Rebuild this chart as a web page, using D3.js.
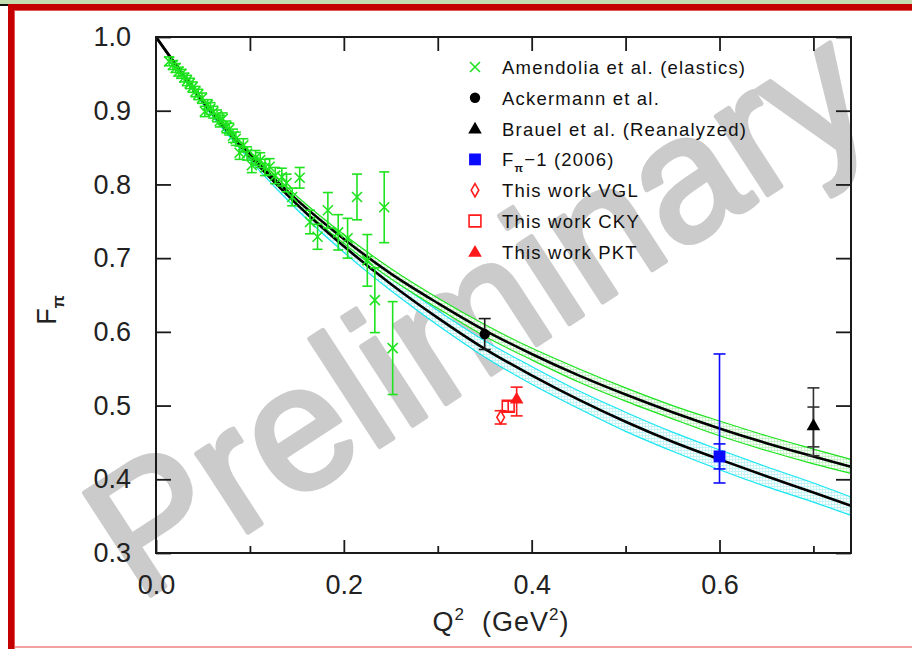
<!DOCTYPE html>
<html>
<head>
<meta charset="utf-8">
<script src="https://cdn.jsdelivr.net/npm/d3@7"></script>
<style>
  body { margin: 0; background: #fff; }
  svg { display: block; }
</style>
</head>
<body>
<svg id="chart" width="912" height="649"></svg>
<script>
// ---- model curves: Q^2 grid and F_pi values (with uncertainty band edges) ----
const modelQ2 = [0, 0.05, 0.10, 0.15, 0.20, 0.25, 0.30, 0.35, 0.40, 0.45, 0.50, 0.55, 0.60, 0.65, 0.70, 0.74];
const modelA   = [1.000, 0.914, 0.841, 0.779, 0.726, 0.679, 0.639, 0.602, 0.570, 0.541, 0.515, 0.491, 0.469, 0.449, 0.431, 0.417];
const modelAHi = [1.000, 0.916, 0.845, 0.784, 0.732, 0.686, 0.646, 0.610, 0.578, 0.550, 0.524, 0.500, 0.479, 0.459, 0.441, 0.427];
const modelALo = [1.000, 0.912, 0.837, 0.774, 0.720, 0.672, 0.632, 0.594, 0.562, 0.532, 0.506, 0.482, 0.459, 0.439, 0.421, 0.408];
const modelB   = [1.000, 0.912, 0.838, 0.773, 0.716, 0.665, 0.619, 0.577, 0.541, 0.508, 0.478, 0.451, 0.427, 0.404, 0.382, 0.364];
const modelBHi = [1.000, 0.915, 0.843, 0.780, 0.724, 0.674, 0.629, 0.588, 0.553, 0.520, 0.491, 0.464, 0.440, 0.417, 0.395, 0.376];
const modelBLo = [1.000, 0.909, 0.833, 0.766, 0.708, 0.656, 0.609, 0.566, 0.529, 0.496, 0.465, 0.438, 0.413, 0.390, 0.369, 0.351];

// ---- Amendolia et al. (elastic scattering) ----
const amenQ2 = [0.014, 0.018, 0.021, 0.024, 0.027, 0.030, 0.033, 0.036, 0.039, 0.042, 0.045, 0.049,
                0.052, 0.055, 0.058, 0.061, 0.065, 0.068, 0.071, 0.075, 0.078, 0.082, 0.085, 0.089,
                0.093, 0.097, 0.102, 0.106, 0.111, 0.116, 0.121, 0.127, 0.134, 0.139, 0.145, 0.153,
                0.164, 0.172, 0.183, 0.194, 0.204, 0.214, 0.225, 0.233, 0.243, 0.252];
const amenF  = [0.967, 0.962, 0.958, 0.953, 0.950, 0.945, 0.941, 0.937, 0.932, 0.926, 0.922, 0.917,
                0.899, 0.908, 0.903, 0.898, 0.893, 0.886, 0.889, 0.878, 0.875, 0.866, 0.862, 0.843,
                0.853, 0.842, 0.826, 0.836, 0.833, 0.823, 0.824, 0.812, 0.810, 0.802, 0.783, 0.809,
                0.749, 0.729, 0.765, 0.735, 0.727, 0.783, 0.697, 0.643, 0.769, 0.578];
const amenErr = [0.006, 0.006, 0.006, 0.006, 0.006, 0.006, 0.007, 0.007, 0.007, 0.007, 0.007, 0.007,
                 0.007, 0.007, 0.008, 0.008, 0.008, 0.008, 0.008, 0.008, 0.008, 0.009, 0.009, 0.009,
                 0.009, 0.009, 0.010, 0.010, 0.010, 0.011, 0.011, 0.011, 0.012, 0.012, 0.012, 0.014,
                 0.016, 0.017, 0.024, 0.024, 0.027, 0.031, 0.035, 0.044, 0.048, 0.063];

// ---- Ackermann et al. ----
const ackQ2 = [0.35], ackF = [0.597], ackErr = [0.021];

// ---- Brauel et al. (reanalyzed): statistical and total errors ----
const brauelQ2 = [0.70], brauelF = [0.472];
const brauelStatLo = [0.444], brauelStatHi = [0.498];
const brauelTotLo = [0.432], brauelTotHi = [0.524];

// ---- F_pi-1 (2006) ----
const fpi1Q2 = [0.60], fpi1F = [0.431];
const fpi1StatLo = [0.414], fpi1StatHi = [0.448];
const fpi1TotLo = [0.395], fpi1TotHi = [0.570];

// ---- This work ----
const vglQ2 = [0.367], vglF = [0.484], vglErr = [0.009];
const ckyQ2 = [0.375], ckyF = [0.499], ckyErr = [0.007];
const pktQ2 = [0.384], pktF = [0.508], pktLo = [0.486], pktHi = [0.525];

// ---- axes ----
const xMajorTicks = [0.0, 0.2, 0.4, 0.6];
const xMinorTicks = [0.1, 0.3, 0.5, 0.7];
const xTopTicks = [0.1, 0.2, 0.3, 0.4, 0.5, 0.6, 0.7];
const yTicks = [0.3, 0.4, 0.5, 0.6, 0.7, 0.8, 0.9, 1.0];

const legendLabels = ["Amendolia et al. (elastics)", "Ackermann et al.", "Brauel et al. (Reanalyzed)",
                      "F\u03C0\u22121 (2006)", "This work VGL", "This work CKY", "This work PKT"];

// ------------------------------------------------------------------
const svg = d3.select("#chart");
const FONT = "'Liberation Sans', Arial, Helvetica, sans-serif";
const GREEN = "#1ee31e", CYAN = "#19e6f0", RED = "#ff1a1a", BLUE = "#0a0aff", INK = "#1a1a1a";

const x = d3.scaleLinear().domain([0, 0.74]).range([156, 851]);
const y = d3.scaleLinear().domain([0.3, 1.0]).range([553, 37]);

// hatched fills for the uncertainty bands
const defs = svg.append("defs");
function meshPattern(id, col) {
  const p = defs.append("pattern").attr("id", id).attr("width", 3).attr("height", 3)
    .attr("patternUnits", "userSpaceOnUse");
  p.append("rect").attr("width", 3).attr("height", 3).attr("fill", "#fff");
  p.append("path").attr("d", "M0,0.5H3M0.5,0V3").attr("stroke", col).attr("stroke-width", 1);
}
meshPattern("meshGreen", "#c8f5c8");
meshPattern("meshCyan", "#c4f4f8");

// watermark
svg.append("text")
  .attr("transform", "translate(510,362) rotate(-33)")
  .attr("text-anchor", "middle")
  .attr("font-family", FONT)
  .attr("font-size", 177)
  .attr("fill", "#cbcbcb").attr("stroke", "#cbcbcb").attr("stroke-width", 5)
  .attr("stroke-linejoin", "round").attr("stroke-linecap", "round")
  .text("Preliminary");

// page frame (drawn over the watermark)
svg.append("rect").attr("x", 0).attr("y", 0).attr("width", 912).attr("height", 4).attr("fill", "#c4ddb0");
svg.append("rect").attr("x", 0).attr("y", 4).attr("width", 8).attr("height", 2).attr("fill", "#111");
svg.append("rect").attr("x", 8).attr("y", 4).attr("width", 904).attr("height", 6).attr("fill", "#c40000");
svg.append("rect").attr("x", 15).attr("y", 10).attr("width", 897).attr("height", 1).attr("fill", "#e25555");
svg.append("rect").attr("x", 8).attr("y", 4).attr("width", 7).attr("height", 645).attr("fill", "#c40000");
svg.append("rect").attr("x", 14).attr("y", 10).attr("width", 1).attr("height", 639).attr("fill", "#e25555");
svg.append("rect").attr("x", 15).attr("y", 646).attr("width", 897).attr("height", 2).attr("fill", "#f2a0a0");

const plot = svg.append("g");

// model bands and central curves
const bandA = modelQ2.map((q, i) => ({ q, lo: modelALo[i], hi: modelAHi[i], v: modelA[i] }));
const bandB = modelQ2.map((q, i) => ({ q, lo: modelBLo[i], hi: modelBHi[i], v: modelB[i] }));
const area = d3.area().x(d => x(d.q)).y0(d => y(d.lo)).y1(d => y(d.hi)).curve(d3.curveMonotoneX);
const lineOf = key => d3.line().x(d => x(d.q)).y(d => y(d[key])).curve(d3.curveMonotoneX);

[[bandB, "meshCyan", CYAN], [bandA, "meshGreen", GREEN]].forEach(([b, pat, col]) => {
  plot.append("path").attr("d", area(b)).attr("fill", `url(#${pat})`);
  plot.append("path").attr("d", lineOf("hi")(b)).attr("fill", "none").attr("stroke", col).attr("stroke-width", 1.2);
  plot.append("path").attr("d", lineOf("lo")(b)).attr("fill", "none").attr("stroke", col).attr("stroke-width", 1.2);
});
[bandB, bandA].forEach(b => {
  plot.append("path").attr("d", lineOf("v")(b)).attr("fill", "none").attr("stroke", "#000").attr("stroke-width", 2.6);
});

// error bar helper
function errBar(g, q, lo, hi, col, cap, w) {
  const cx = x(q);
  g.append("line").attr("x1", cx).attr("x2", cx).attr("y1", y(lo)).attr("y2", y(hi))
    .attr("stroke", col).attr("stroke-width", w);
  [lo, hi].forEach(v => g.append("line").attr("x1", cx - cap).attr("x2", cx + cap)
    .attr("y1", y(v)).attr("y2", y(v)).attr("stroke", col).attr("stroke-width", w));
}
function cross(g, cx, cy) {
  const s = 5;
  g.append("path").attr("d", `M${cx - s},${cy - s}L${cx + s},${cy + s}M${cx - s},${cy + s}L${cx + s},${cy - s}`)
    .attr("stroke", GREEN).attr("stroke-width", 1.6).attr("fill", "none");
}

// Amendolia points
const amen = plot.append("g");
amenQ2.forEach((q, i) => {
  errBar(amen, q, amenF[i] - amenErr[i], amenF[i] + amenErr[i], GREEN, 5, 1.6);
  cross(amen, x(q), y(amenF[i]));
});

// marker shapes
const sym = {
  circle: d3.symbol().type(d3.symbolCircle).size(85),
  triangle: d3.symbol().type(d3.symbolTriangle).size(80),
  square: d3.symbol().type(d3.symbolSquare).size(140),
  diamond: d3.symbol().type(d3.symbolDiamond).size(50)
};
function marker(g, shape, cx, cy, fill, stroke, sw) {
  g.append("path").attr("d", sym[shape]()).attr("transform", `translate(${cx},${cy})`)
    .attr("fill", fill).attr("stroke", stroke || "none").attr("stroke-width", sw || 0);
}

// Ackermann
errBar(plot, ackQ2[0], ackF[0] - ackErr[0], ackF[0] + ackErr[0], INK, 6, 1.6);
marker(plot, "circle", x(ackQ2[0]), y(ackF[0]), "#000");

// Brauel
errBar(plot, brauelQ2[0], brauelTotLo[0], brauelTotHi[0], "#333", 6, 1.6);
errBar(plot, brauelQ2[0], brauelStatLo[0], brauelStatHi[0], "#333", 6, 1.6);
marker(plot, "triangle", x(brauelQ2[0]), y(brauelF[0]), "#000");

// F_pi-1
errBar(plot, fpi1Q2[0], fpi1TotLo[0], fpi1TotHi[0], BLUE, 6, 1.6);
errBar(plot, fpi1Q2[0], fpi1StatLo[0], fpi1StatHi[0], BLUE, 6, 1.6);
marker(plot, "square", x(fpi1Q2[0]), y(fpi1F[0]), BLUE);

// this work
errBar(plot, vglQ2[0], vglF[0] - vglErr[0], vglF[0] + vglErr[0], RED, 6, 1.6);
marker(plot, "diamond", x(vglQ2[0]), y(vglF[0]), "#fff", RED, 1.6);
errBar(plot, ckyQ2[0], ckyF[0] - ckyErr[0], ckyF[0] + ckyErr[0], RED, 6, 1.6);
marker(plot, "square", x(ckyQ2[0]), y(ckyF[0]), "none", RED, 1.6);
errBar(plot, pktQ2[0], pktLo[0], pktHi[0], RED, 6, 1.6);
marker(plot, "triangle", x(pktQ2[0]), y(pktF[0]), RED);

// axes (ticks point into the frame)
const axisG = svg.append("g").attr("font-family", FONT);
function styleAxis(g) {
  g.select(".domain").remove();
  g.selectAll(".tick line").attr("stroke", INK).attr("stroke-width", 1.8);
  g.selectAll("text").attr("fill", "#222").attr("font-size", 27).attr("font-family", FONT);
}
axisG.append("g").attr("transform", "translate(0,553)")
  .call(d3.axisBottom(x).tickValues(xMajorTicks).tickSize(-13).tickPadding(22).tickFormat(d3.format(".1f")))
  .call(styleAxis);
axisG.append("g").attr("transform", "translate(0,553)")
  .call(d3.axisBottom(x).tickValues(xMinorTicks).tickSize(-7).tickFormat(""))
  .call(styleAxis);
axisG.append("g").attr("transform", "translate(0,37)")
  .call(d3.axisTop(x).tickValues(xTopTicks).tickSize(-14).tickFormat(""))
  .call(styleAxis);
axisG.append("g").attr("transform", "translate(156,0)")
  .call(d3.axisLeft(y).tickValues(yTicks).tickSize(-15).tickPadding(25).tickFormat(d3.format(".1f")))
  .call(styleAxis);
axisG.append("g").attr("transform", "translate(851,0)")
  .call(d3.axisRight(y).tickValues(yTicks).tickSize(-15).tickFormat(""))
  .call(styleAxis);
svg.append("rect").attr("x", x(0)).attr("y", y(1.0)).attr("width", x(0.74) - x(0)).attr("height", y(0.3) - y(1.0))
  .attr("fill", "none").attr("stroke", INK).attr("stroke-width", 2);

// axis titles
const xt = svg.append("text").attr("x", 501).attr("y", 631).attr("text-anchor", "middle")
  .attr("font-family", FONT).attr("font-size", 27).attr("letter-spacing", 1).attr("fill", "#222");
xt.append("tspan").text("Q");
xt.append("tspan").attr("dy", -11).attr("font-size", 17).text("2");
xt.append("tspan").attr("dy", 11).text("\u00A0\u00A0(GeV");
xt.append("tspan").attr("dy", -11).attr("font-size", 17).text("2");
xt.append("tspan").attr("dy", 11).text(")");

const yt = svg.append("text").attr("transform", "translate(56,310) rotate(-90)").attr("text-anchor", "middle")
  .attr("font-family", FONT).attr("font-size", 27).attr("fill", "#222");
yt.append("tspan").text("F");
yt.append("tspan").attr("dy", 8).attr("font-size", 17).attr("font-weight", "bold").text("\u03C0");

// legend
const leg = svg.append("g").attr("font-family", FONT);
const legX = 475, legText = 502, legY0 = 67, legDy = 30.8;
legendLabels.forEach((label, i) => {
  const cy = legY0 + i * legDy;
  if (i === 0) cross(leg, legX, cy);
  if (i === 1) marker(leg, "circle", legX, cy, "#000");
  if (i === 2) marker(leg, "triangle", legX, cy + 1, "#000");
  if (i === 3) marker(leg, "square", legX, cy, BLUE);
  if (i === 4) marker(leg, "diamond", legX, cy, "#fff", RED, 1.6);
  if (i === 5) marker(leg, "square", legX, cy, "none", RED, 1.6);
  if (i === 6) marker(leg, "triangle", legX, cy + 1, RED);
  const t = leg.append("text").attr("x", legText).attr("y", cy + 7)
    .attr("font-size", 18.5).attr("letter-spacing", 1.2).attr("fill", "#111");
  if (i === 3) {
    t.append("tspan").text("F");
    t.append("tspan").attr("dy", 6).attr("font-size", 11).attr("font-weight", "bold").text("\u03C0");
    t.append("tspan").attr("dy", -6).text("\u22121 (2006)");
  } else {
    t.text(label);
  }
});
</script>
</body>
</html>
